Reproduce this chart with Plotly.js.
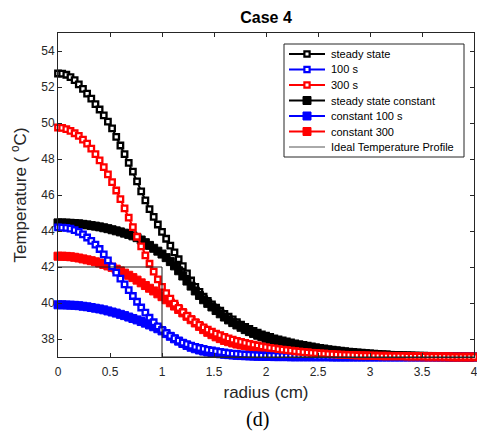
<!DOCTYPE html>
<html>
<head>
<meta charset="utf-8">
<script src="https://cdn.plot.ly/plotly-3.0.1.min.js"></script>
<style>html,body{margin:0;padding:0;background:#fff;}#chart{width:477px;height:434px;}</style>
</head>
<body>
<div id="chart"></div>
<script>
// radius grid (cm)
const radius = [0,0.04,0.08,0.12,0.16,0.2,0.24,0.28,0.32,0.36,0.4,0.44,0.48,0.52,0.56,0.6,0.64,0.68,0.72,0.76,
0.8,0.84,0.88,0.92,0.96,1,1.04,1.08,1.12,1.16,1.2,1.24,1.28,1.32,1.36,1.4,1.44,1.48,1.52,1.56,
1.6,1.64,1.68,1.72,1.76,1.8,1.84,1.88,1.92,1.96,2,2.04,2.08,2.12,2.16,2.2,2.24,2.28,2.32,2.36,
2.4,2.44,2.48,2.52,2.56,2.6,2.64,2.68,2.72,2.76,2.8,2.84,2.88,2.92,2.96,3,3.04,3.08,3.12,3.16,
3.2,3.24,3.28,3.32,3.36,3.4,3.44,3.48,3.52,3.56,3.6,3.64,3.68,3.72,3.76,3.8,3.84,3.88,3.92,3.96,4];

const steadyState = [52.75,52.74,52.68,52.55,52.38,52.15,51.9,51.63,51.35,51.05,50.75,50.42,50.08,49.7,49.23,48.75,48.27,47.79,47.3,46.76,
46.2,45.7,45.22,44.78,44.36,43.95,43.57,43.19,42.81,42.43,42.05,41.65,41.25,40.9,40.62,40.35,40.12,39.92,39.74,39.57,
39.4,39.24,39.09,38.94,38.8,38.67,38.56,38.45,38.35,38.26,38.18,38.11,38.04,37.98,37.92,37.86,37.81,37.76,37.72,37.67,
37.63,37.59,37.55,37.51,37.48,37.44,37.41,37.38,37.35,37.33,37.3,37.28,37.26,37.24,37.22,37.2,37.18,37.17,37.15,37.14,
37.12,37.11,37.1,37.09,37.08,37.07,37.06,37.05,37.05,37.04,37.03,37.03,37.02,37.02,37.02,37.01,37.01,37.01,37.0,37.0,37.0];

const s100 = [44.2,44.19,44.17,44.13,44.05,43.95,43.81,43.64,43.45,43.24,43.0,42.7,42.37,42.03,41.69,41.35,41.03,40.71,40.39,40.07,
39.75,39.46,39.18,38.93,38.7,38.5,38.33,38.17,38.03,37.91,37.8,37.71,37.63,37.56,37.5,37.45,37.4,37.36,37.32,37.28,
37.25,37.22,37.19,37.17,37.15,37.13,37.12,37.1,37.09,37.08,37.07,37.06,37.06,37.05,37.05,37.04,37.04,37.04,37.03,37.03,
37.03,37.03,37.02,37.02,37.02,37.02,37.02,37.02,37.02,37.02,37.02,37.01,37.01,37.01,37.01,37.01,37.01,37.01,37.01,37.01,
37.01,37.01,37.01,37.01,37.01,37.01,37.0,37.0,37.0,37.0,37.0,37.0,37.0,37.0,37.0,37.0,37.0,37.0,37.0,37.0,37.0];

const s300 = [49.75,49.73,49.66,49.56,49.43,49.28,49.08,48.85,48.58,48.27,47.92,47.55,47.15,46.72,46.25,45.77,45.26,44.74,44.21,43.68,
43.15,42.65,42.18,41.74,41.31,40.9,40.55,40.24,39.97,39.73,39.5,39.29,39.1,38.92,38.78,38.65,38.52,38.41,38.3,38.21,
38.12,38.04,37.97,37.9,37.84,37.78,37.73,37.68,37.64,37.59,37.55,37.51,37.48,37.44,37.41,37.38,37.35,37.32,37.3,37.27,
37.25,37.23,37.21,37.19,37.18,37.16,37.15,37.13,37.12,37.11,37.1,37.09,37.08,37.07,37.07,37.06,37.05,37.05,37.04,37.04,
37.04,37.03,37.03,37.03,37.02,37.02,37.02,37.02,37.02,37.01,37.01,37.01,37.01,37.01,37.0,37.0,37.0,37.0,37.0,37.0,37.0];

const steadyConst = [44.45,44.45,44.44,44.43,44.41,44.4,44.37,44.34,44.3,44.27,44.23,44.18,44.13,44.07,44.01,43.95,43.88,43.81,43.73,43.63,
43.5,43.35,43.2,43.04,42.88,42.72,42.52,42.3,42.06,41.79,41.5,41.22,40.94,40.67,40.42,40.18,39.98,39.78,39.58,39.4,
39.22,39.06,38.91,38.78,38.65,38.52,38.41,38.31,38.21,38.13,38.04,37.97,37.91,37.85,37.8,37.75,37.7,37.66,37.62,37.58,
37.54,37.5,37.47,37.43,37.4,37.37,37.34,37.31,37.29,37.26,37.24,37.22,37.2,37.18,37.17,37.15,37.14,37.13,37.11,37.1,
37.09,37.08,37.07,37.06,37.06,37.05,37.05,37.04,37.04,37.03,37.03,37.02,37.02,37.02,37.01,37.01,37.01,37.01,37.0,37.0,37.0];

const const100 = [39.9,39.9,39.89,39.88,39.87,39.85,39.82,39.79,39.75,39.71,39.67,39.62,39.56,39.5,39.44,39.37,39.3,39.22,39.14,39.06,
38.97,38.88,38.78,38.68,38.57,38.45,38.3,38.15,38.01,37.88,37.75,37.64,37.54,37.46,37.39,37.33,37.28,37.24,37.21,37.18,
37.15,37.13,37.11,37.09,37.08,37.07,37.06,37.05,37.04,37.04,37.03,37.03,37.02,37.02,37.02,37.02,37.01,37.01,37.01,37.01,
37.01,37.01,37.01,37.01,37.01,37.01,37.0,37.0,37.0,37.0,37.0,37.0,37.0,37.0,37.0,37.0,37.0,37.0,37.0,37.0,
37.0,37.0,37.0,37.0,37.0,37.0,37.0,37.0,37.0,37.0,37.0,37.0,37.0,37.0,37.0,37.0,37.0,37.0,37.0,37.0,37.0];

const const300 = [42.6,42.6,42.59,42.57,42.54,42.5,42.45,42.4,42.35,42.29,42.22,42.14,42.06,41.98,41.88,41.78,41.66,41.54,41.41,41.27,
41.12,40.97,40.82,40.67,40.51,40.35,40.18,40.01,39.83,39.64,39.45,39.26,39.07,38.89,38.7,38.52,38.37,38.24,38.12,38.02,
37.92,37.85,37.78,37.72,37.67,37.63,37.59,37.55,37.51,37.48,37.45,37.42,37.4,37.38,37.35,37.33,37.31,37.28,37.26,37.24,
37.22,37.2,37.18,37.16,37.15,37.13,37.12,37.11,37.1,37.09,37.08,37.07,37.07,37.06,37.06,37.05,37.05,37.04,37.04,37.04,
37.03,37.03,37.03,37.03,37.02,37.02,37.02,37.02,37.01,37.01,37.01,37.01,37.01,37.01,37.01,37.0,37.0,37.0,37.0,37.0,37.0];

const idealR = [0, 1, 1, 4];
const idealT = [42, 42, 37, 37];

const seriesNames = ['steady state','100 s','300 s','steady state constant','constant 100 s','constant 300','Ideal Temperature Profile'];
const seriesColors = ['#000000','#0000ff','#ff0000','#000000','#0000ff','#ff0000','#404040'];
const seriesOpen = [true, true, true, false, false, false, null];
const xTicks = [0,0.5,1,1.5,2,2.5,3,3.5,4];
const yTicks = [38,40,42,44,46,48,50,52,54];

function markerTrace(y, idx) {
  const c = seriesColors[idx];
  const open = seriesOpen[idx];
  return {x: radius, y: y, name: seriesNames[idx], type: 'scatter', mode: 'lines+markers',
    showlegend: false, cliponaxis: false,
    line: {color: c, width: 2},
    marker: open ? {symbol: 'square', size: 5.5, color: '#ffffff', line: {color: c, width: 2.3}}
                 : {symbol: 'square', size: 8, color: c, line: {color: c, width: 1}}};
}

const traces = [
  markerTrace(steadyState, 0),
  markerTrace(steadyConst, 3),
  markerTrace(const100, 4),
  markerTrace(const300, 5),
  markerTrace(s100, 1),
  markerTrace(s300, 2),
  {x: idealR, y: idealT, name: seriesNames[6], type: 'scatter', mode: 'lines', showlegend: false,
   line: {color: '#1a1a1a', width: 1}}
];

// --- legend box drawn as shapes / annotations (pixel layout of the plot area) ---
const PL = 58, PR = 474, PT = 33, PB = 357;
const px2x = p => (p - PL) / (PR - PL);
const py2y = p => (PB - p) / (PB - PT);
const shapes = [];
const annotations = [];
shapes.push({type: 'rect', xref: 'paper', yref: 'paper', layer: 'above',
  x0: px2x(284), x1: px2x(464), y0: py2y(157), y1: py2y(44),
  fillcolor: '#ffffff', line: {color: '#262626', width: 1}});
seriesNames.forEach((nm, k) => {
  const cy = py2y(54 + 15.5 * k);
  const c = seriesColors[k];
  const isIdeal = seriesOpen[k] === null;
  shapes.push({type: 'line', xref: 'paper', yref: 'paper', layer: 'above',
    x0: px2x(289), x1: px2x(325), y0: cy, y1: cy,
    line: {color: isIdeal ? '#555555' : c, width: isIdeal ? 1 : 2}});
  if (!isIdeal) {
    const h = seriesOpen[k] ? 2.6 : 4;
    shapes.push({type: 'rect', xref: 'paper', yref: 'paper', layer: 'above',
      xsizemode: 'pixel', ysizemode: 'pixel', xanchor: px2x(307), yanchor: cy,
      x0: -h, x1: h, y0: -h, y1: h,
      fillcolor: seriesOpen[k] ? '#ffffff' : c,
      line: {color: c, width: seriesOpen[k] ? 2.2 : 1}});
  }
  annotations.push({text: nm, xref: 'paper', yref: 'paper', x: px2x(329), y: cy,
    xanchor: 'left', yanchor: 'middle', showarrow: false,
    font: {family: 'Liberation Sans, Arial, sans-serif', size: 11, color: '#000000'}});
});
annotations.push({
  text: '(d)', xref: 'paper', yref: 'paper', x: px2x(257), y: py2y(419), xanchor: 'center', yanchor: 'middle',
  showarrow: false, font: {family: 'Liberation Serif, Times New Roman, serif', size: 20, color: '#000000'}
});

const axisCommon = {
  showline: true, linecolor: '#262626', linewidth: 1, mirror: 'ticks',
  ticks: 'inside', ticklen: 4, tickcolor: '#262626', tickwidth: 1,
  showgrid: false, zeroline: false, ticklabeloverflow: 'allow',
  tickfont: {family: 'Liberation Sans, Arial, sans-serif', size: 12, color: '#262626'}
};

const layout = {
  width: 477, height: 434,
  margin: {l: 58, r: 3, t: 33, b: 77},
  paper_bgcolor: '#ffffff', plot_bgcolor: '#ffffff',
  font: {family: 'Liberation Sans, Arial, sans-serif', color: '#262626'},
  title: {text: '<b>Case 4</b>', xref: 'paper', x: 0.5, xanchor: 'center', y: 0.961, yanchor: 'middle',
          font: {size: 16, color: '#000000', family: 'Liberation Sans, Arial, sans-serif'}},
  xaxis: Object.assign({}, axisCommon, {
    range: [0, 4], tickvals: xTicks, ticktext: xTicks.map(String), ticklabelstandoff: 4,
    title: {text: 'radius (cm)', standoff: 7, font: {size: 17, color: '#262626'}}
  }),
  yaxis: Object.assign({}, axisCommon, {
    range: [37, 55], tickvals: yTicks, ticktext: yTicks.map(String),
    title: {text: 'Temperature ( <sup>o</sup>C)', standoff: 10, font: {size: 17, color: '#262626'}}
  }),
  shapes: shapes,
  annotations: annotations,
  showlegend: false
};

Plotly.newPlot('chart', traces, layout, {displayModeBar: false, staticPlot: true});
</script>
</body>
</html>
